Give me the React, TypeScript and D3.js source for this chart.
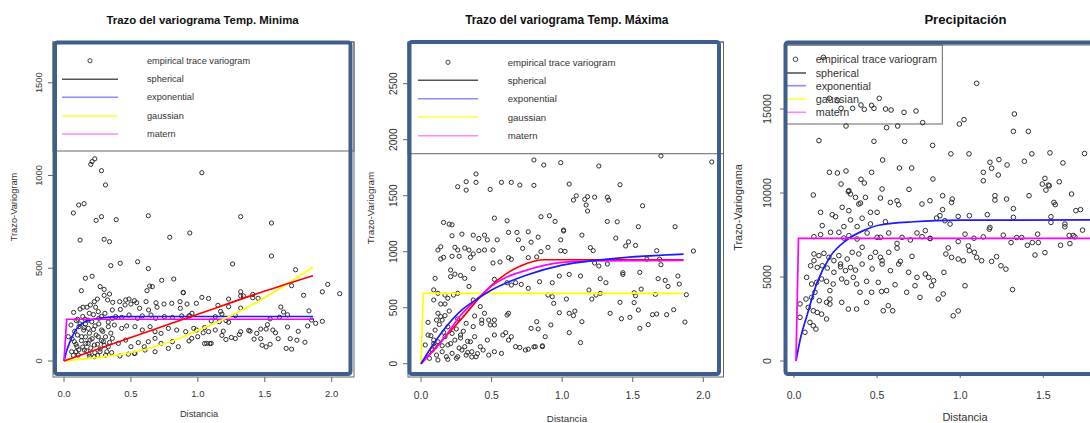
import React from "react";
import * as d3 from "d3";

type Pt = [number, number];

// ---------- shared labels ----------
const legendLabels = ["empirical trace variogram", "spherical", "exponential", "gaussian", "matern"];
const xTicksTwo = [0, 0.5, 1.0, 1.5, 2.0];
const xTicksPrec = [0, 0.5, 1.0, 1.5];
const minYTicks = [0, 500, 1000, 1500];
const maxYTicks = [0, 500, 1000, 1500, 2000, 2500];
const precYTicks = [0, 5000, 10000, 15000];

// ---------- Temp. Minima ----------
const minEmpirical: Pt[] = [
  [0.20,1060],[0.21,1075],[0.23,1090],[0.28,1026],[0.31,949],[1.03,1015],[0.11,841],[0.15,848],[0.07,798],[0.24,758],
  [0.28,778],[0.39,762],[0.63,783],[0.12,652],[0.30,656],[0.34,643],[0.79,667],[0.94,690],[0.35,514],[0.42,527],
  [0.55,535],[0.63,498],[0.16,446],[0.21,457],[0.13,379],[0.27,401],[0.30,386],[0.34,361],[0.30,354],[0.73,435],
  [0.82,442],[0.64,404],[0.66,401],[0.62,379],[0.89,370],[1.03,343],
  [1.32,778],[1.55,744],[1.55,566],[1.26,523],[1.73,492],[1.70,406],[1.97,413],[1.93,373],[2.06,363],[1.79,354],
  [1.32,373],[1.32,351],[1.34,351],[1.41,359],[1.41,341],[1.45,338],[1.08,337],[1.23,334],[1.15,300],[1.23,293],
  [1.32,285],[1.17,267],[1.18,253],[1.62,291],[1.64,264],[1.67,249],[1.83,270],[1.61,236],[1.54,227],[1.28,245],
  [1.13,239],[1.10,216],[1.16,212],[1.23,209],[1.21,218],[1.85,221],[1.88,203],[1.93,214],[1.82,189],[1.52,196],
  [1.51,172],[1.56,167],[1.58,152],[1.47,172],[1.39,161],[1.44,149],[1.67,183],[1.05,180],[1.08,158],[1.13,167],
  [1.19,161],[1.18,138],[1.21,116],[1.25,127],[1.28,121],[1.31,143],[1.32,158],[1.38,165],[1.42,118],[1.47,120],
  [1.60,120],[1.69,120],[1.75,160],[1.74,112],[1.80,101],[1.05,94],[1.09,94],[1.48,85],[1.51,76],[1.54,90],
  [1.66,68],[1.70,64],
  [0.249,334],[0.227,320],[0.197,302],[0.172,290],[0.236,290],[0.326,329],[0.364,316],[0.416,320],[0.461,329],[0.486,334],
  [0.526,325],[0.543,314],[0.50,307],[0.456,302],[0.613,320],[0.687,314],[0.747,307],[0.805,311],[0.867,320],[0.892,368],
  [0.919,307],[0.989,311],[0.142,290],[0.189,257],[0.072,262],[0.102,225],[0.361,275],[0.421,278],[0.565,284],[0.632,275],
  [0.695,290],[0.869,284],[0.956,257],[0.939,244],
  [0.256,266],[0.306,257],[0.361,230],[0.386,239],[0.431,235],[0.486,248],[0.55,230],[0.585,243],[0.65,248],[0.685,230],
  [0.75,239],[0.81,235],[0.879,243],[0.934,243],[0.092,218],[0.157,225],[0.207,212],
  [0.052,194],[0.112,185],[0.147,167],[0.182,176],[0.232,189],[0.281,167],[0.331,185],[0.376,194],[0.431,176],[0.468,189],
  [0.53,185],[0.585,167],[0.643,185],[0.68,158],[0.725,149],[0.78,176],[0.842,167],[0.909,158],[0.969,176],[1.04,152],
  [0.032,131],[0.077,104],[0.097,77],[0.132,131],[0.162,95],[0.194,113],[0.227,86],[0.256,131],[0.294,104],[0.331,77],
  [0.361,122],[0.406,95],[0.461,113],[0.50,77],[0.555,99],[0.60,77],[0.63,104],[0.68,122],[0.725,95],[0.78,68],
  [0.81,104],[0.854,77],[0.934,108],[0.954,122],[0.999,131],
  [0.057,50],[0.107,32],[0.152,59],[0.187,37],[0.227,23],[0.269,50],[0.311,32],[0.356,45],[0.418,27],[0.481,37],
  [0.53,41],[0.605,59],[0.68,50],
  [0.06,120],[0.08,160],[0.09,90],[0.10,140],[0.11,60],[0.12,200],[0.13,110],[0.14,75],[0.15,180],[0.16,130],
  [0.17,55],[0.18,95],[0.19,150],[0.20,70],[0.21,120],[0.22,170],[0.23,45],[0.24,140],[0.25,90],[0.26,200],
  [0.27,65],[0.28,110],[0.29,160],[0.30,85],[0.31,130],[0.32,50],[0.33,210],[0.34,100],[0.35,150],[0.14,240],
  [0.18,220],[0.22,250],[0.26,230],[0.12,280],[0.09,50],[0.07,30],[0.25,30],[0.19,25],[0.16,200],[0.28,240],
  [0.525,41],[1.10,95],[1.066,95],[0.99,167],
];
const minSphericalD = [0, 0.5, 1.0, 1.5, 1.86];
const minSphericalV = [0, 127, 252, 377, 460];
const minExponentialD = [0, 0.02, 0.045, 0.08, 0.13, 0.2, 0.3, 0.43, 0.6, 1.0, 1.86];
const minExponentialV = [0, 55, 104, 158, 200, 222, 234, 239, 240, 240, 240];
const minGaussianD = [0, 0.2, 0.4, 0.6, 0.8, 1.0, 1.2, 1.4, 1.6, 1.86];
const minGaussianV = [0, 15, 33, 62, 105, 165, 228, 300, 385, 505];
const minMaternD = [0, 0.02, 1.86];
const minMaternV = [0, 225, 225];

// ---------- Temp. Maxima ----------
const maxEmpirical: Pt[] = [
  [0.80,1819],[0.87,1774],[0.39,1694],[0.32,1625],[0.39,1619],[0.26,1580],[0.32,1550],[0.57,1619],[0.64,1619],[0.70,1595],
  [0.80,1592],[0.49,1556],[0.52,1300],[0.61,1276],[0.85,1312],[0.91,1321],[0.95,1270],[1.01,1193],
  [0.16,1261],[0.20,1246],[0.22,1240],[0.22,1142],[0.29,1157],[0.37,1148],[0.41,1118],[0.45,1148],[0.47,1106],[0.54,1106],
  [0.62,1172],[0.68,1172],[0.76,1178],[0.69,1106],[0.78,1085],[0.83,1130],[0.99,1106],
  [0.12,1015],[0.14,1044],[0.24,1039],[0.26,1015],[0.31,1033],[0.34,1015],[0.37,980],[0.41,1009],[0.45,1015],[0.51,1015],
  [0.35,950],[0.16,950],[0.14,935],[0.22,959],[0.27,959],[0.72,1030],[0.90,1039],[0.85,1000],[0.99,1009],
  [0.51,899],[0.56,908],[0.62,947],[0.64,932],[0.76,947],[0.82,953],
  [0.21,836],[0.24,800],[0.21,777],[0.28,788],[0.37,848],[0.10,762],
  [0.52,753],[0.61,723],[0.64,702],[0.67,723],[0.71,708],[0.76,673],[0.84,732],[0.93,723],[0.98,783],[0.34,690],[0.31,762],
  [0.09,659],[0.12,628],[0.17,613],[0.23,613],[0.26,628],[0.19,584],[0.09,569],[0.14,533],[0.17,533],[0.12,450],
  [0.17,429],[0.15,390],[0.11,390],[0.05,369],[0.90,613],[0.93,598],[0.94,539],[0.98,455],[0.92,346],[0.82,375],
  [0.78,316],[0.83,310],
  [0.37,569],[0.42,510],[0.45,450],[0.38,426],[0.43,390],[0.48,390],[0.52,390],[0.49,346],[0.52,346],[0.61,435],
  [0.62,450],[0.43,360],[0.37,331],[0.32,360],
  [0.05,256],[0.09,211],[0.12,196],[0.17,241],[0.19,167],[0.24,211],[0.28,256],[0.31,152],[0.35,196],[0.38,241],
  [0.42,152],[0.47,211],[0.52,256],[0.58,256],[0.62,211],[0.67,152],[0.74,122],[0.81,152],[0.86,152],[0.60,277],[0.64,241],
  [0.08,122],[0.11,77],[0.15,107],[0.18,62],[0.22,92],[0.25,48],[0.29,122],[0.32,77],[0.36,107],[0.39,62],
  [0.44,122],[0.48,77],[0.52,107],[0.57,92],[0.06,48],[0.12,33],[0.19,39],[0.26,62],[0.10,152],[0.03,167],
  [0.10,300],[0.13,350],[0.16,280],[0.19,330],[0.22,270],[0.25,310],[0.28,230],[0.30,290],[0.33,200],[0.14,420],
  [0.20,470],[0.26,400],[0.07,250],[0.09,180],[0.15,160],[0.21,180],[0.27,140],[0.33,100],[0.36,60],[0.40,90],
  [0.99,1795],[1.26,1765],[1.70,1855],[2.06,1801],
  [1.05,1604],[1.41,1598],[1.10,1499],[1.08,1461],[1.16,1467],[1.18,1491],[1.17,1417],[1.18,1363],[1.23,1487],[1.32,1487],
  [1.33,1461],[1.57,1410],[1.01,1185],[1.32,1270],[1.39,1267],[1.54,1223],[1.80,1223],[1.14,1148],[1.38,1121],
  [1.20,1036],[1.22,1009],[1.45,1051],[1.47,1088],[1.52,1056],[1.67,1009],[1.02,1003],[1.93,1006],
  [1.23,899],[1.26,872],[1.32,890],[1.60,934],[1.69,934],[1.70,884],
  [1.05,797],[1.13,783],[1.27,759],[1.31,723],[1.43,797],[1.43,812],[1.55,815],[1.68,759],[1.73,744],[1.75,690],
  [1.82,783],[1.83,711],
  [1.03,577],[1.19,658],[1.21,577],[1.24,613],[1.27,628],[1.51,634],[1.52,607],[1.56,666],[1.66,619],[1.88,616],
  [1.41,548],[1.51,545],[1.54,479],[1.34,450],[1.42,402],[1.48,414],[1.55,316],[1.61,349],[1.64,438],[1.67,444],
  [1.74,438],[1.79,482],[1.87,372],[1.05,450],[1.08,429],[1.09,470],[1.14,375],[1.05,277],[1.13,188],
  [0.88,241],[0.80,150],[0.70,145],[0.76,130],[0.86,160],
];
const maxSphericalD = [0, 0.1, 0.2, 0.3, 0.4, 0.5, 0.6, 0.7, 0.8, 0.88, 1.86];
const maxSphericalV = [0, 140, 280, 420, 570, 700, 800, 870, 915, 928, 928];
const maxExponentialD = [0, 0.08, 0.16, 0.28, 0.4, 0.5, 0.75, 1.0, 1.25, 1.46, 1.86];
const maxExponentialV = [0, 160, 301, 470, 580, 658, 792, 880, 925, 950, 979];
const maxGaussianD = [0, 0.016, 1.86];
const maxGaussianV = [0, 628, 628];
const maxMaternD = [0, 0.14, 0.28, 0.4, 0.5, 0.62, 0.75, 0.88, 1.0, 1.2, 1.86];
const maxMaternV = [0, 190, 430, 580, 693, 780, 836, 880, 905, 918, 922];

// ---------- Precipitacion ----------
const precEmpirical: Pt[] = [
  [0.177,18075],[0.213,15635],[0.261,15496],[0.283,15040],[0.353,15040],[0.403,15238],[0.423,14980],[0.467,15218],[0.481,15040],[0.513,15635],
  [0.551,15000],[0.584,14940],[0.662,14802],[0.734,14881],[0.774,14187],[0.313,13988],[0.557,13889],[0.624,13988],[0.150,13115],[0.481,13075],
  [0.666,13075],[0.213,11230],[0.261,11190],[0.313,11310],[0.467,11230],[0.533,11964],[0.634,11488],[0.708,11488],[0.283,10536],[0.327,10079],
  [0.403,10813],[0.423,10595],[0.692,10218],[0.116,9881],
  [0.53,10240],[0.33,10140],[0.34,9940],[0.37,9740],[0.43,9740],[0.52,9700],[0.62,9540],
  [0.39,9345],[0.58,9440],[0.63,9300],[0.77,9345],[0.23,8710],[0.25,8590],[0.29,9150],[0.33,8950],[0.40,9400],
  [0.46,8850],[0.50,8850],[0.16,8850],[0.17,8060],[0.30,8000],[0.34,8400],[0.38,8000],[0.41,8500],[0.46,8160],[0.55,8290],
  [0.12,7400],[0.16,7520],[0.22,7660],[0.27,7660],[0.30,7320],[0.33,7460],[0.38,7260],[0.44,7620],[0.50,7360],[0.52,7360],
  [0.57,7620],[0.62,7000],[0.65,7360],[0.70,7200],[0.74,7620],[0.77,7400],[0.79,7760],[0.82,7300],
  [0.12,6370],[0.15,6270],[0.18,6410],[0.21,6170],[0.24,5970],[0.27,6270],[0.28,5770],[0.32,6070],[0.35,6470],[0.39,6370],
  [0.41,6770],[0.46,6170],[0.49,6470],[0.52,6170],[0.53,5970],[0.57,6470],[0.62,6720],[0.64,5930],[0.71,6230],[0.12,5970],
  [0.10,5670],[0.14,5570],[0.17,5670],[0.20,5530],[0.24,5280],[0.28,5610],[0.31,5380],[0.34,5570],[0.37,5410],[0.41,5770],
  [0.47,5480],[0.53,5770],[0.58,5380],[0.63,5770],[0.69,5280],[0.74,4980],[0.79,5180],[0.81,4980],[0.84,4780],
  [0.076,4980],[0.106,4580],[0.136,4680],[0.166,4880],[0.196,4740],[0.216,4190],[0.236,4580],[0.287,4880],[0.317,4680],[0.357,4980],
  [0.377,4580],[0.397,4090],[0.437,4740],[0.467,4090],[0.507,4680],[0.527,4140],[0.557,4190],[0.608,4540],[0.678,4090],[0.728,4480],
  [0.758,3790],[0.072,3690],[0.106,3790],[0.126,4090],[0.152,3590],[0.196,3490],[0.216,3690],[0.216,3390],[0.287,3490],[0.327,3090],
  [0.377,3090],[0.437,3490],[0.537,2990],[0.567,3290],[0.594,2990],[0.086,3190],[0.116,2990],[0.14,2890],[0.166,2790],[0.196,2500],
  [0.096,2300],[0.116,2100],[0.132,1900],[0.066,1710],[0.036,2600],[0.036,3400],
  [1.099,16528],[0.995,14107],[1.023,14365],[1.326,14702],[1.32,13670],[1.41,13670],[0.834,12833],
  [0.944,12330],[1.053,12330],[1.179,11830],[1.189,11470],[1.233,11990],[1.139,11230],[1.139,10730],[1.229,11070],[1.282,11670],[1.386,11890],
  [1.431,12330],[1.54,12390],[1.618,11790],[1.748,12350],[0.836,10830],
  [0.894,9840],[0.952,9640],[0.948,9440],[1.209,9840],[1.209,9580],[1.279,9640],[1.414,9840],[1.51,10870],[1.494,10530],[1.53,10470],
  [1.516,10170],[1.536,10430],[1.596,10670],[1.564,9440],[1.572,9310],[1.67,9940],[1.696,8950],[1.724,9010],
  [0.818,9540],[0.894,9010],[0.858,8510],[0.878,8650],[0.908,8350],[0.939,8150],[0.988,8610],[1.055,8650],[1.163,8710],[1.32,9070],
  [1.32,8550],[1.546,8590],[1.546,8250],[1.63,8150],
  [0.818,7290],[0.988,7110],[1.029,7550],[1.083,7310],[1.139,7390],[1.179,7950],[1.175,7850],[1.259,7490],[1.306,7050],[1.34,7350],
  [1.37,7350],[1.404,6890],[1.434,7050],[1.466,7550],[1.47,7050],[1.51,6450],[1.45,6310],[1.604,6890],[1.63,7990],[1.66,6990],
  [1.68,7470],[1.69,7390],[1.736,7790],[1.656,7470],
  [0.928,6730],[0.914,6370],[0.948,6170],[0.988,6070],[1.019,5970],[1.049,6850],[1.055,6570],[1.085,6470],[1.099,6170],[1.129,5970],
  [1.189,5930],[1.219,6210],[1.245,5670],[1.275,5470],[0.902,5280],[0.828,4480],[1.029,4480],[0.898,3990],[0.868,3690],[1.315,4250],
  [0.988,2980],[0.958,2690],
];
const precExponentialD = [0.012, 0.04, 0.076, 0.137, 0.217, 0.317, 0.417, 0.517, 0.72, 1.0, 1.9];
const precExponentialV = [0, 1400, 2640, 4620, 6210, 7200, 7760, 8095, 8290, 8380, 8400];
const precMaternD = [0.012, 0.027, 1.9];
const precMaternV = [0, 7300, 7300];

// ---------- styling ----------
const FONT = "'Liberation Sans', Arial, Helvetica, sans-serif";
const FRAME = "#3d5f8c";
const BOXGRAY = "#666";
const TXT = "#333";
const legendColors = ["#333", "#555", "#8a8aff", "#ffff3a", "#ff88ff"];

type Curve = { d: number[]; v: number[]; color: string; smooth: boolean };
type Panel = {
  title: string; titleX: number; titleY: number; titleSize: number;
  box: { l: number; r: number; t: number; b: number };
  frame: { x: number; y: number; w: number; h: number };
  xDomain: [number, number]; xRange: [number, number];
  yDomain: [number, number]; yRange: [number, number];
  xTicks: number[];
  yTicks: number[]; yLabX: number; yTickSize: number;
  xLabY: number; xTickSize: number;
  xlab: { x: number; y: number; size: number };
  ylab: { text: string; x: number; y: number; size: number };
  legend: { r: number; b: number; t: number; symX: number; lx1: number; lx2: number; tx: number; ys: number[]; size: number };
  points: Pt[]; pr: number;
  curves: Curve[];
};

const panels: Panel[] = [
  {
    title: "Trazo del variograma Temp. Minima", titleX: 202.5, titleY: 19.5, titleSize: 11.4,
    box: { l: 53, r: 354, t: 42, b: 377 },
    frame: { x: 55, y: 42.5, w: 295.5, h: 331.5 },
    xDomain: [0, 2], xRange: [64, 331.7], yDomain: [0, 1500], yRange: [361, 82.75],
    xTicks: xTicksTwo,
    yTicks: minYTicks, yLabX: 38.5, yTickSize: 9.3, xLabY: 393, xTickSize: 9.5,
    xlab: { x: 199, y: 413.5, size: 9.3 },
    ylab: { text: "Trazo-Variogram", x: 14, y: 207, size: 9.3 },
    legend: { r: 354, b: 151, t: 42, symX: 90, lx1: 62, lx2: 118, tx: 147, ys: [60.7, 79.3, 97.3, 116, 134], size: 9.2 },
    points: minEmpirical, pr: 2.1,
    curves: [
      { d: minExponentialD, v: minExponentialV, color: "#1a1aff", smooth: true },
      { d: minMaternD, v: minMaternV, color: "#ff00ff", smooth: false },
      { d: minGaussianD, v: minGaussianV, color: "#ffff00", smooth: true },
      { d: minSphericalD, v: minSphericalV, color: "#ff0000", smooth: true },
    ],
  },
  {
    title: "Trazo del variograma Temp. Máxima", titleX: 566.8, titleY: 19.5, titleSize: 11.9,
    box: { l: 408, r: 723.5, t: 42, b: 377 },
    frame: { x: 409.5, y: 42, w: 309.5, h: 332 },
    xDomain: [0, 2], xRange: [421, 703.3], yDomain: [0, 2500], yRange: [363.7, 83.7],
    xTicks: xTicksTwo,
    yTicks: maxYTicks, yLabX: 393, yTickSize: 10.2, xLabY: 395, xTickSize: 10.3,
    xlab: { x: 567, y: 418.5, size: 9.8 },
    ylab: { text: "Trazo-Variogram", x: 370.5, y: 208, size: 9.8 },
    legend: { r: 723.5, b: 153.7, t: 42, symX: 448, lx1: 418, lx2: 478, tx: 507.7, ys: [62.3, 80.3, 98.7, 117, 135.7], size: 9.6 },
    points: maxEmpirical, pr: 2.1,
    curves: [
      { d: maxGaussianD, v: maxGaussianV, color: "#ffff00", smooth: false },
      { d: maxSphericalD, v: maxSphericalV, color: "#ff0000", smooth: true },
      { d: maxMaternD, v: maxMaternV, color: "#ff00ff", smooth: true },
      { d: maxExponentialD, v: maxExponentialV, color: "#1a1aff", smooth: true },
    ],
  },
  {
    title: "Precipitación", titleX: 965.5, titleY: 19, titleSize: 13.1,
    box: { l: 785, r: 1120, t: 45, b: 373 },
    frame: { x: 785.5, y: 42.5, w: 400, h: 331.5 },
    xDomain: [0, 1.5], xRange: [794, 1043.3], yDomain: [0, 15000], yRange: [361, 109],
    xTicks: xTicksPrec,
    yTicks: precYTicks, yLabX: 766.5, yTickSize: 10.8, xLabY: 394.5, xTickSize: 10.5,
    xlab: { x: 965, y: 416.5, size: 11 },
    ylab: { text: "Trazo-Variograma", x: 738.3, y: 207.5, size: 10.9 },
    legend: { r: 942.3, b: 124, t: 45, symX: 795.5, lx1: 787, lx2: 806, tx: 815.7, ys: [59.3, 73, 85.7, 99, 112.3], size: 10.8 },
    points: precEmpirical, pr: 2.3,
    curves: [
      { d: precExponentialD, v: precExponentialV, color: "#1a1aff", smooth: true },
      { d: precMaternD, v: precMaternV, color: "#ff00ff", smooth: false },
    ],
  },
];

function PanelView({ p }: { p: Panel }) {
  const x = d3.scaleLinear().domain(p.xDomain).range(p.xRange);
  const y = d3.scaleLinear().domain(p.yDomain).range(p.yRange);
  const fmt = d3.format(".1f");
  const L = p.legend;
  const mkLine = (smooth: boolean) =>
    d3.line<[number, number]>().x((q) => x(q[0])).y((q) => y(q[1])).curve(smooth ? d3.curveMonotoneX : d3.curveLinear);
  return (
    <g fontFamily={FONT}>
      <text x={p.titleX} y={p.titleY} textAnchor="middle" dominantBaseline="central" fontWeight="bold" fontSize={p.titleSize} fill="#111">{p.title}</text>
      <rect x={p.box.l} y={p.box.t} width={p.box.r - p.box.l} height={p.box.b - p.box.t} fill="none" stroke={BOXGRAY} strokeWidth={1} />
      <rect x={p.box.l} y={L.t} width={L.r - p.box.l} height={L.b - L.t} fill="none" stroke={BOXGRAY} strokeWidth={1} />
      {legendLabels.map((lab, i) => (
        <g key={lab}>
          {i === 0 ? (
            <circle cx={L.symX} cy={L.ys[i]} r={p.pr} fill="none" stroke="#444" strokeWidth={1} />
          ) : (
            <line x1={L.lx1} x2={L.lx2} y1={L.ys[i]} y2={L.ys[i]} stroke={legendColors[i]} strokeWidth={1.6} />
          )}
          <text x={L.tx} y={L.ys[i]} dominantBaseline="central" fontSize={L.size} fill={TXT}>{lab}</text>
        </g>
      ))}
      {p.yTicks.map((t) => (
        <g key={"y" + t}>
          <line x1={p.box.l} x2={p.box.l - 5} y1={y(t)} y2={y(t)} stroke={BOXGRAY} />
          <text transform={`translate(${p.yLabX},${y(t)}) rotate(-90)`} textAnchor="middle" dominantBaseline="central" fontSize={p.yTickSize} fill={TXT}>{t}</text>
        </g>
      ))}
      {p.xTicks.map((t) => (
        <g key={"x" + t}>
          <line x1={x(t)} x2={x(t)} y1={p.box.b} y2={p.box.b + 5} stroke={BOXGRAY} />
          <text x={x(t)} y={p.xLabY} textAnchor="middle" dominantBaseline="central" fontSize={p.xTickSize} fill={TXT}>{fmt(t)}</text>
        </g>
      ))}
      <text x={p.xlab.x} y={p.xlab.y} textAnchor="middle" dominantBaseline="central" fontSize={p.xlab.size} fill={TXT}>Distancia</text>
      <text transform={`translate(${p.ylab.x},${p.ylab.y}) rotate(-90)`} textAnchor="middle" dominantBaseline="central" fontSize={p.ylab.size} fill={TXT}>{p.ylab.text}</text>
      {p.points.map((q, i) => (
        <circle key={i} cx={x(q[0])} cy={y(q[1])} r={p.pr} fill="none" stroke="#2e2e2e" strokeWidth={1} />
      ))}
      {p.curves.map((c, i) => (
        <path key={i} d={mkLine(c.smooth)(c.d.map((dd, k) => [dd, c.v[k]] as [number, number])) || ""} fill="none" stroke={c.color} strokeWidth={1.7} />
      ))}
      <rect x={p.frame.x} y={p.frame.y} width={p.frame.w} height={p.frame.h} rx={2.5} fill="none" stroke={FRAME} strokeWidth={4} />
    </g>
  );
}

export default function App() {
  return (
    <svg width={1090} height={423} viewBox="0 0 1090 423" style={{ position: "absolute", left: 0, top: 0, background: "#fff" }}>
      <rect x={0} y={0} width={1090} height={423} fill="#fff" />
      {panels.map((p) => (
        <PanelView key={p.title} p={p} />
      ))}
    </svg>
  );
}
